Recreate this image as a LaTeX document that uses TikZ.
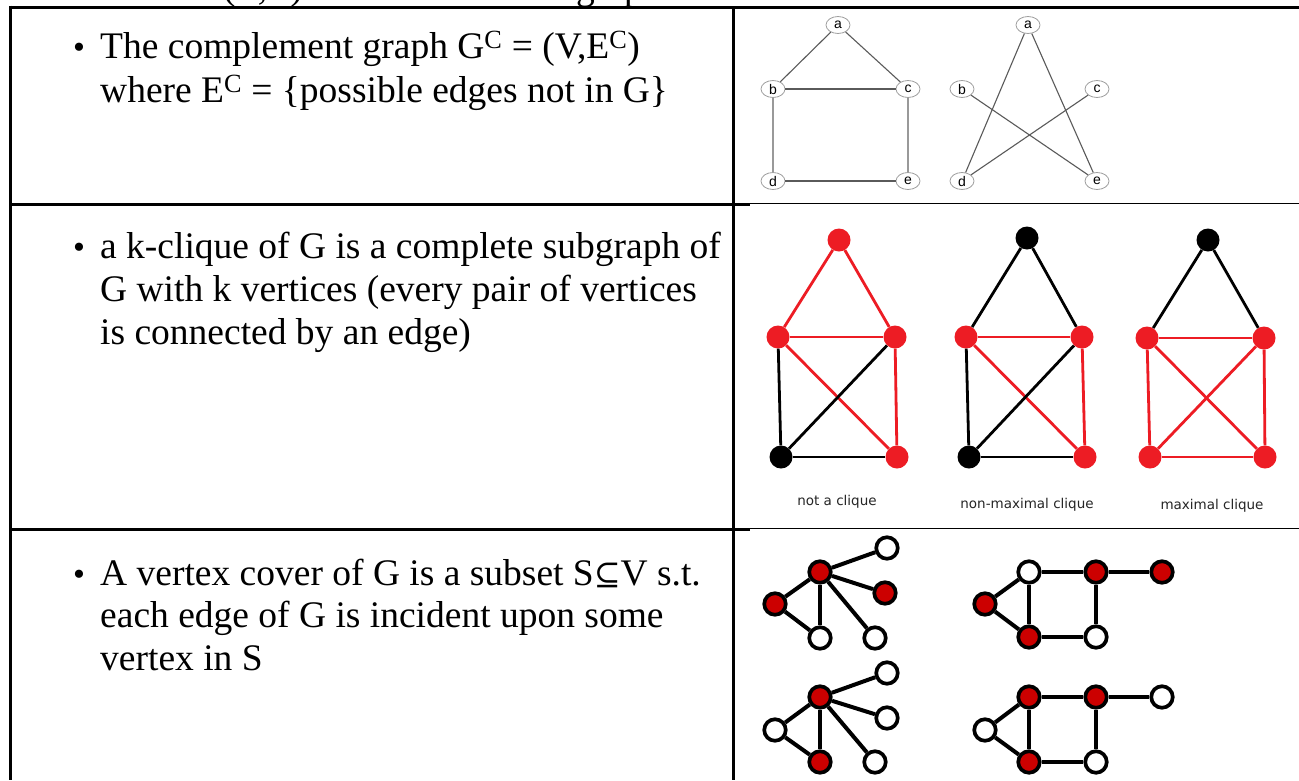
\documentclass[tikz,border=0pt]{standalone}
\usepackage{fontspec}
\setmainfont{Liberation Serif}
\newfontfamily\labfont{DejaVu Sans}
\newfontfamily\nodefont{Liberation Sans}
\newfontfamily\symfont{DejaVu Serif}
\usetikzlibrary{shapes.geometric}
\definecolor{cred}{HTML}{ED1C24}
\definecolor{vred}{HTML}{CC0000}
\definecolor{gline}{HTML}{5A5A5A}
\begin{document}
\begin{tikzpicture}[x=1pt,y=-1pt,
  txt/.style={anchor=base west, inner sep=0, font=\fontsize{37.5}{43}\selectfont},
  bul/.style={anchor=base west, inner sep=0, font=\fontsize{34}{43}\selectfont},
  rule/.style={line width=3pt, black},
  thinrule/.style={line width=1.5pt, black},
  gnode/.style={ellipse, draw=gray!75, line width=0.8pt, fill=white, minimum width=24pt, minimum height=17pt, inner sep=0pt, font=\nodefont\fontsize{14}{14}\selectfont},
  gedge/.style={draw=gline, line width=1.1pt},
  gedge2/.style={draw=gray!80, line width=2pt},
  rv/.style={circle, fill=cred, inner sep=0pt, minimum size=23pt},
  bv/.style={circle, fill=black, inner sep=0pt, minimum size=23pt},
  redge/.style={draw=cred, line width=2.8pt},
  bedge/.style={draw=black, line width=2.8pt},
  capt/.style={font=\labfont\fontsize{13.5}{13.5}\selectfont, inner sep=0pt, text=black!85},
  vcr/.style={circle, draw=black, line width=3.7pt, fill=vred, inner sep=0pt, minimum size=21.5pt},
  vcw/.style={circle, draw=black, line width=3.7pt, fill=white, inner sep=0pt, minimum size=21.5pt},
  vedge/.style={draw=black, line width=4pt}
]
\useasboundingbox (0,0) rectangle (1299,780);
\fill[white] (0,0) rectangle (1299,780);

% cut-off line above the table
\begin{scope}
  \clip (0,0) rectangle (1299,6);
  \node[txt] (cut1) at (223,-1) {(V,E)};
  \node[txt] (cut2) at (576,-1) {graph};
\end{scope}

% table rules
\draw[rule] (10,7) -- (1299,7);
\draw[rule] (10,5.5) -- (10,780);
\draw[rule] (733,7) -- (733,780);
\draw[rule] (10,204) -- (750,204);
\draw[thinrule] (750,203.5) -- (1299,203.5);
\draw[rule] (10,529) -- (750,529);
\draw[thinrule] (750,528.5) -- (1299,528.5);

% row 1 text
\node[bul] (b1) at (73,58) {\textbullet};
\node[txt] (t11) at (100,58) {The complement graph G\textsuperscript{C} = (V,E\textsuperscript{C})};
\node[txt] (t12) at (100,102) {where E\textsuperscript{C} = \{possible edges not in G\}};

% row 2 text
\node[bul] (b2) at (73,258) {\textbullet};
\node[txt] (t21) at (100,258) {a k-clique of G is a complete subgraph of};
\node[txt] (t22) at (100,301) {G with k vertices (every pair of vertices};
\node[txt] (t23) at (100,344) {is connected by an edge)};

% row 3 text
\node[bul] (b3) at (73,585) {\textbullet};
\node[txt] (t31) at (100,585) {A vertex cover of G is a subset S{\symfont\fontsize{32}{43}\selectfont ⊆}V s.t.};
\node[txt] (t32) at (100,627) {each edge of G is incident upon some};
\node[txt] (t33) at (100,670) {vertex in S};

% row 1 graphs
\node[gnode] (ga) at (838,25) {a};
\node[gnode] (gb) at (773,89) {b};
\node[gnode] (gc) at (908,89) {c};
\node[gnode] (gd) at (773,181) {d};
\node[gnode] (ge) at (908,181) {e};
\draw[gedge] (ga) -- (gb);
\draw[gedge] (ga) -- (gc);
\draw[gedge] (gb) -- (gc);
\draw[gedge2] (gb) -- (gd);
\draw[gedge2] (gc) -- (ge);
\draw[gedge] (gd) -- (ge);

\node[gnode] (ha) at (1028,25) {a};
\node[gnode] (hb) at (962,89) {b};
\node[gnode] (hc) at (1097,89) {c};
\node[gnode] (hd) at (962,181) {d};
\node[gnode] (he) at (1097,181) {e};
\draw[gedge] (ha) -- (hd);
\draw[gedge] (ha) -- (he);
\draw[gedge] (hb) -- (he);
\draw[gedge] (hc) -- (hd);

% row 2 graphs: not a clique
\node[rv] (p1) at (839,240) {};
\node[rv] (p2) at (778,337) {};
\node[rv] (p3) at (895,337) {};
\node[bv] (p4) at (781,457) {};
\node[rv] (p5) at (897,457) {};
\draw[redge] (p1) -- (p2);
\draw[redge] (p1) -- (p3);
\draw[redge] (p2) -- (p3);
\draw[bedge] (p2) -- (p4);
\draw[redge] (p3) -- (p5);
\draw[redge] (p2) -- (p5);
\draw[bedge] (p3) -- (p4);
\draw[bedge] (p4) -- (p5);
\node[capt] (cp) at (837,502) {not a clique};

% non-maximal clique
\node[bv] (q1) at (1027,238) {};
\node[rv] (q2) at (966,337) {};
\node[rv] (q3) at (1082,337) {};
\node[bv] (q4) at (969,457) {};
\node[rv] (q5) at (1085,457) {};
\draw[bedge] (q1) -- (q2);
\draw[bedge] (q1) -- (q3);
\draw[redge] (q2) -- (q3);
\draw[bedge] (q2) -- (q4);
\draw[redge] (q3) -- (q5);
\draw[redge] (q2) -- (q5);
\draw[bedge] (q3) -- (q4);
\draw[bedge] (q4) -- (q5);
\node[capt] (cq) at (1027,505) {non-maximal clique};

% maximal clique
\node[bv] (r1) at (1208,240) {};
\node[rv] (r2) at (1147,338) {};
\node[rv] (r3) at (1264,338) {};
\node[rv] (r4) at (1150,457) {};
\node[rv] (r5) at (1265,457) {};
\draw[bedge] (r1) -- (r2);
\draw[bedge] (r1) -- (r3);
\draw[redge] (r2) -- (r3);
\draw[redge] (r2) -- (r4);
\draw[redge] (r3) -- (r5);
\draw[redge] (r2) -- (r5);
\draw[redge] (r3) -- (r4);
\draw[redge] (r4) -- (r5);
\node[capt] (cr) at (1212,506) {maximal clique};

% row 3: vertex cover graphs
% A
\node[vcr] (a0) at (820,572) {};
\node[vcr] (a1) at (775,604) {};
\node[vcw] (a2) at (887,548) {};
\node[vcr] (a3) at (885,593) {};
\node[vcw] (a4) at (820,638) {};
\node[vcw] (a5) at (875,638) {};
\draw[vedge] (a0) -- (a1);
\draw[vedge] (a0) -- (a2);
\draw[vedge] (a0) -- (a3);
\draw[vedge] (a0) -- (a4);
\draw[vedge] (a0) -- (a5);
\draw[vedge] (a1) -- (a4);
% B
\node[vcr] (b0) at (985,604) {};
\node[vcw] (b1n) at (1029,572) {};
\node[vcr] (b2n) at (1096,572) {};
\node[vcr] (b3n) at (1162,572) {};
\node[vcr] (b4n) at (1029,637) {};
\node[vcw] (b5n) at (1096,637) {};
\draw[vedge] (b0) -- (b1n);
\draw[vedge] (b0) -- (b4n);
\draw[vedge] (b1n) -- (b2n);
\draw[vedge] (b2n) -- (b3n);
\draw[vedge] (b1n) -- (b4n);
\draw[vedge] (b2n) -- (b5n);
\draw[vedge] (b4n) -- (b5n);
% C
\node[vcr] (c0) at (820,697) {};
\node[vcw] (c1) at (775,730) {};
\node[vcw] (c2) at (887,673) {};
\node[vcw] (c3) at (887,718) {};
\node[vcr] (c4) at (820,762) {};
\node[vcw] (c5) at (875,762) {};
\draw[vedge] (c0) -- (c1);
\draw[vedge] (c0) -- (c2);
\draw[vedge] (c0) -- (c3);
\draw[vedge] (c0) -- (c4);
\draw[vedge] (c0) -- (c5);
\draw[vedge] (c1) -- (c4);
% D
\node[vcw] (d0) at (985,730) {};
\node[vcr] (d1) at (1029,697) {};
\node[vcr] (d2) at (1096,697) {};
\node[vcw] (d3) at (1162,697) {};
\node[vcr] (d4) at (1029,762) {};
\node[vcw] (d5) at (1096,762) {};
\draw[vedge] (d0) -- (d1);
\draw[vedge] (d0) -- (d4);
\draw[vedge] (d1) -- (d2);
\draw[vedge] (d2) -- (d3);
\draw[vedge] (d1) -- (d4);
\draw[vedge] (d2) -- (d5);
\draw[vedge] (d4) -- (d5);
\end{tikzpicture}
\end{document}
